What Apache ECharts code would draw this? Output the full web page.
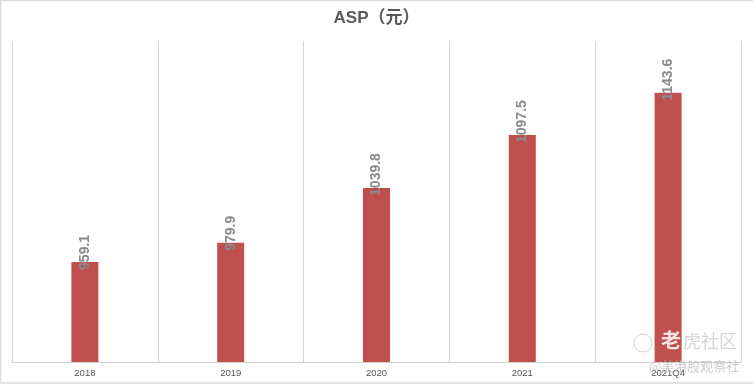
<!DOCTYPE html>
<html><head><meta charset="utf-8">
<style>html,body{margin:0;padding:0;background:#fff}#c{width:753px;height:386px}</style>
<script src="https://cdn.jsdelivr.net/npm/echarts@6/dist/echarts.min.js"></script>
</head><body><div id="c"></div>
<script>
const categories = ['2018','2019','2020','2021','2021Q4'];
const values = [959.1, 979.9, 1039.8, 1097.5, 1143.6];
const titleText = 'ASP（元）';
const chart = echarts.init(document.getElementById('c'), null, {renderer:'canvas'});
chart.setOption({
  animation:false,
  backgroundColor:'#fff',
  title:{text:titleText,left:'center',top:10,padding:0,textStyle:{fontFamily:'Liberation Sans, Noto Sans CJK TC',fontSize:17,fontWeight:'bold',color:'#595959'}},
  grid:{left:12,right:12,top:41,bottom:24,containLabel:false},
  xAxis:{type:'category',data:categories,boundaryGap:true,
    axisLine:{lineStyle:{color:'#d0d0d0',width:1}},axisTick:{show:false},
    axisLabel:{fontFamily:'Liberation Sans',fontSize:9.5,color:'#555',margin:6,interval:0},
    splitLine:{show:true,interval:0,lineStyle:{color:'#d4d4d4',width:1}}},
  yAxis:{type:'value',min:850,max:1200,show:false,splitLine:{show:false}},
  series:[{type:'bar',data:values,barWidth:27,itemStyle:{color:'#c0504d'},
    z:2,
    label:{show:true,position:'top',rotate:90,align:'left',verticalAlign:'middle',distance:0,offset:[-8,0],
      formatter:p=>p.value.toFixed(1),
      fontFamily:'Liberation Sans',fontSize:14,fontWeight:'bold',color:'#8a8a8a'}}],
  graphic:[
    {type:'rect',silent:true,z:0,shape:{x:0.5,y:0.5,width:760,height:382.5},style:{fill:'none',stroke:'#dcdcdc',lineWidth:1.5}},
    {type:'circle',silent:true,z:10,shape:{cx:643,cy:343,r:9},style:{fill:'rgba(255,255,255,0.3)',stroke:'rgba(190,190,190,0.7)',lineWidth:1}},
    {type:'text',silent:true,z:10,x:661,y:330,style:{text:'老',font:'bold 20px "Noto Sans CJK SC"',fill:'rgba(255,255,255,0.85)'}},
    {type:'text',silent:true,z:10,x:683,y:332,style:{text:'虎社区',font:'18px "Noto Sans CJK SC"',fill:'rgba(200,200,200,0.75)'}},
    {type:'text',silent:true,z:10,x:649,y:360,style:{text:'@美港股观察社',font:'13px "Noto Sans CJK SC"',fill:'rgba(185,185,185,0.75)'}}
  ]
});
</script></body></html>
